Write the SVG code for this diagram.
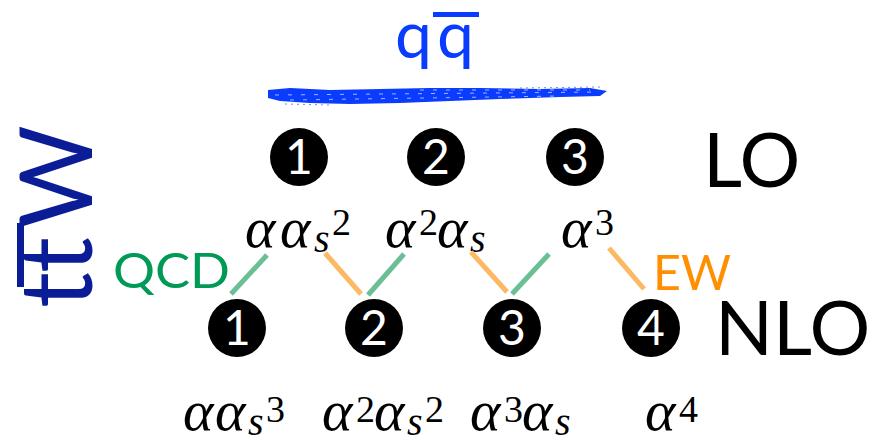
<svg xmlns="http://www.w3.org/2000/svg" width="872" height="441" viewBox="0 0 872 441">
<style>
.num{font-family:Lato,"Open Sans",sans-serif;font-size:48px;fill:#fff;text-anchor:middle}
.m{font-family:"Liberation Serif","DejaVu Serif",serif;font-style:italic;font-size:58px;fill:#000}
.sb{font-family:"Liberation Serif","DejaVu Serif",serif;font-style:italic;font-size:40px;fill:#000}
.sp{font-family:"Liberation Serif","DejaVu Serif",serif;font-size:38px;fill:#000}
.big{font-family:Lato,"Open Sans",sans-serif;font-size:76px;fill:#000}
.q{font-family:Lato,"Open Sans",sans-serif;font-size:66px;fill:#0a3cff}
.tw{font-family:Lato,"Open Sans",sans-serif;font-size:100px;fill:#0a1d96;text-anchor:middle}
.g{stroke:#6abf96;stroke-width:5}
.o{stroke:#fdb863;stroke-width:5}
</style>
<rect width="872" height="441" fill="#fff"/>
<g id="title">
<text class="q" x="395" y="58">q</text>
<text class="q" x="437" y="58">q</text>
<rect x="433" y="12" width="46" height="5" fill="#0a3cff"/>
<path d="M268,90 L290,88 L330,90 L380,89 L430,88 L480,88 L540,89 L590,88 L607,91 L600,96 L560,97 L500,99 L450,101 L400,103 L350,104 L310,103 L280,101 L268,98 Z" fill="#0a3cff"/>
<path d="M275,95 L600,92 M290,100 L560,96 M420,90 L590,90" stroke="#fff" stroke-width="0.9" stroke-dasharray="4 9" opacity="0.7"/>
<path d="M520,88 L600,87 M285,104 L330,105" stroke="#0a3cff" stroke-width="1" stroke-dasharray="2 4" opacity="0.6"/>
</g>
<g id="ttW" transform="translate(92,0) rotate(-90)">
<text class="tw" x="-290" y="0">t</text>
<text class="tw" x="-255" y="0">t</text>
<text class="tw" x="-177" y="0">W</text>
</g>
<rect x="17" y="223" width="7" height="64" fill="#0a1d96"/>
<g id="LO"><text class="big" x="703" y="187">LO</text></g>
<g id="NLO"><text class="big" x="715" y="355">NLO</text></g>
<g id="QCD"><text x="113" y="288" font-family="Lato,'Open Sans',sans-serif" font-size="49" fill="#009a57" textLength="117" lengthAdjust="spacingAndGlyphs">QCD</text></g>
<g id="EW"><text x="653" y="290" font-family="Lato,'Open Sans',sans-serif" font-size="49" fill="#ff8f00" textLength="78" lengthAdjust="spacingAndGlyphs">EW</text></g>
<g id="lo1"><circle cx="299" cy="157" r="29"/><text class="num" x="299" y="174">1</text></g>
<g id="lo2"><circle cx="436" cy="157" r="29"/><text class="num" x="436" y="174">2</text></g>
<g id="lo3"><circle cx="575" cy="157" r="29"/><text class="num" x="575" y="174">3</text></g>
<g id="nlo1"><circle cx="237" cy="328" r="29"/><text class="num" x="237" y="345">1</text></g>
<g id="nlo2"><circle cx="374" cy="328" r="29"/><text class="num" x="374" y="345">2</text></g>
<g id="nlo3"><circle cx="512" cy="328" r="29"/><text class="num" x="512" y="345">3</text></g>
<g id="nlo4"><circle cx="651" cy="328" r="29"/><text class="num" x="651" y="345">4</text></g>
<g id="coup-lo">
<text class="m" x="245" y="247">α</text><text class="m" x="280" y="247">α</text><text class="sb" x="314" y="252">s</text><text class="sp" x="332" y="235">2</text>
<text class="m" x="385" y="247">α</text><text class="sp" x="419" y="235">2</text><text class="m" x="437" y="247">α</text><text class="sb" x="470" y="252">s</text>
<text class="m" x="561" y="247">α</text><text class="sp" x="595" y="235">3</text>
</g>
<g id="coup-nlo">
<text class="m" x="183" y="430">α</text><text class="m" x="215" y="430">α</text><text class="sb" x="248" y="435">s</text><text class="sp" x="266" y="422">3</text>
<text class="m" x="322" y="430">α</text><text class="sp" x="356" y="422">2</text><text class="m" x="374" y="430">α</text><text class="sb" x="407" y="435">s</text><text class="sp" x="425" y="422">2</text>
<text class="m" x="470" y="430">α</text><text class="sp" x="504" y="422">3</text><text class="m" x="522" y="430">α</text><text class="sb" x="555" y="435">s</text>
<text class="m" x="645" y="430">α</text><text class="sp" x="679" y="422">4</text>
</g>
<g id="connectors">
<line class="g" x1="267" y1="255" x2="231" y2="294"/>
<line class="o" x1="325" y1="253" x2="361" y2="294"/>
<line class="g" x1="404" y1="254" x2="368" y2="295"/>
<line class="o" x1="471" y1="252" x2="507" y2="292"/>
<line class="g" x1="549" y1="254" x2="512" y2="294"/>
<line class="o" x1="609" y1="248" x2="644" y2="289"/>
</g>
</svg>
